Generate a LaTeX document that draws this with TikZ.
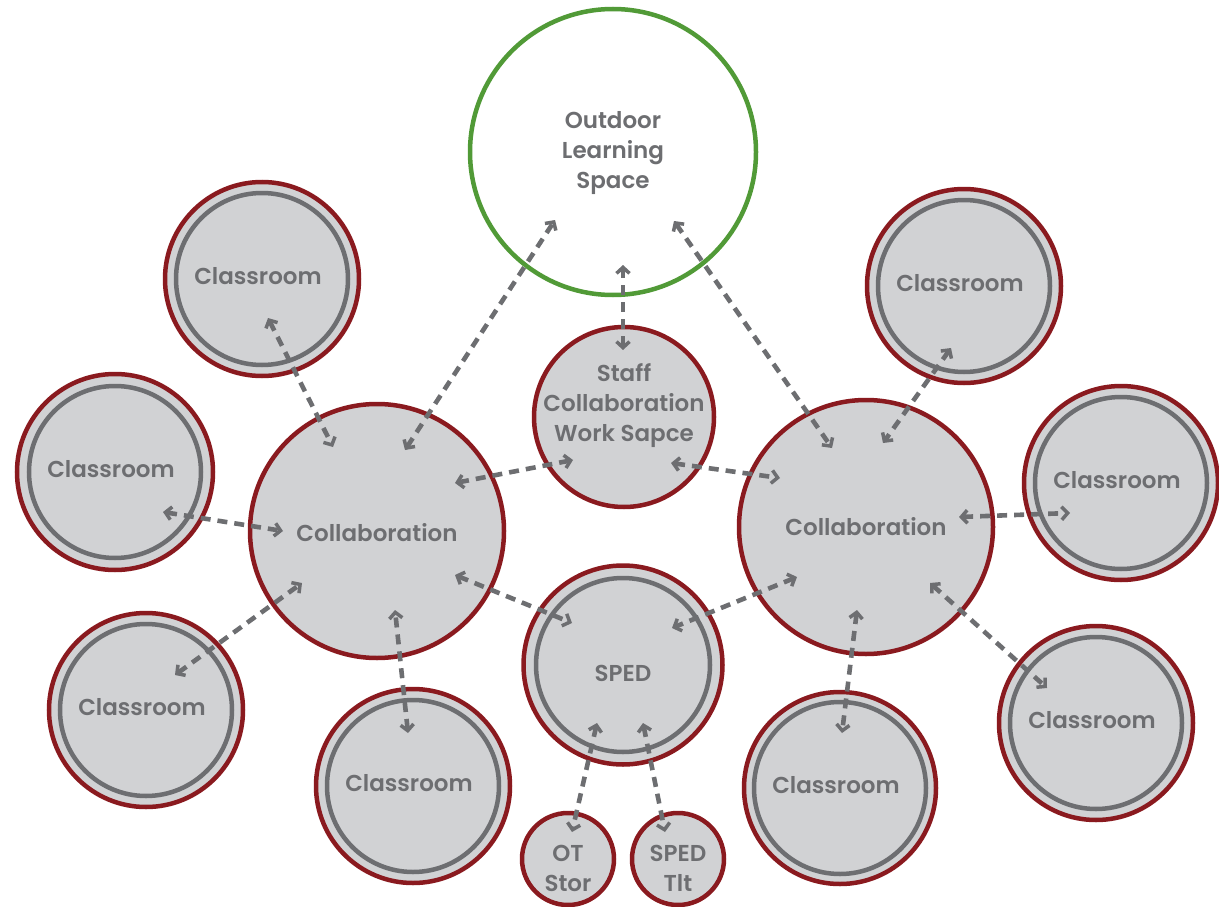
\documentclass[tikz,border=0pt]{standalone}
\usepackage{fontspec}
\setmainfont{Poppins}[UprightFont=* SemiBold]
\usetikzlibrary{arrows.meta,calc}
\definecolor{roomfill}{HTML}{D1D2D4}
\definecolor{roomred}{HTML}{8A1A1F}
\definecolor{ringgray}{HTML}{6D6E71}
\definecolor{txtgray}{HTML}{6D6E71}
\definecolor{leafgreen}{HTML}{519A37}
\tikzset{
  room/.style={circle, draw=roomred, fill=roomfill, line width=4.5pt, inner sep=0pt, minimum size=#1},
  ring/.style={draw=ringgray, line width=4.5pt},
  outdoor/.style={circle, draw=leafgreen, fill=white, line width=4.5pt, inner sep=0pt, minimum size=#1},
  lbl/.style={text=txtgray, font=\fontsize{23}{30}\selectfont, align=center, inner sep=0pt},
  link/.style={draw=ringgray, line width=4.6pt, dash pattern=on 10pt off 7pt,
    {Straight Barb[length=6pt,width=13pt,line width=3.5pt]}-{Straight Barb[length=6pt,width=13pt,line width=3.5pt]}}
}
\begin{document}
\begin{tikzpicture}[x=1pt,y=-1pt]
\useasboundingbox (0,0) rectangle (1219,907);

% spaces
\node[outdoor=286pt] (OUT) at (613,152) {};
\node[room=180pt] (STF) at (624,417) {};
\node[room=254pt] (CL) at (377,531) {};
\node[room=254pt] (CR) at (866,527) {};
\node[room=199pt] (SPED) at (623,665) {};
\node[room=92pt] (OT) at (568,859) {};
\node[room=92pt] (TLT) at (678,859) {};
\node[room=194pt] (C1) at (262,279) {};
\node[room=196pt] (C2) at (115,472) {};
\node[room=194pt] (C3) at (146,710) {};
\node[room=194pt] (C4) at (413,786) {};
\node[room=194pt] (C5) at (964,286) {};
\node[room=194pt] (C6) at (1121,483) {};
\node[room=194pt] (C7) at (1096,723) {};
\node[room=192pt] (C8) at (840,788) {};

% inner rings of classrooms and SPED
\foreach \c in {C1,C2,C3,C4,C5,C6,C7,C8}
  \draw[ring] (\c) circle (86);
\draw[ring] (SPED) circle (87);

% circulation links
\draw[link] ($(C1)+(6,39)$) -- ($(CL)+(-44,-84)$);
\draw[link] ($(C2)+(48,40)$) -- ($(CL)+(-94,0)$);
\draw[link] ($(C3)+(29,-35)$) -- ($(CL)+(-75,52)$);
\draw[link] ($(C4)+(-5,-53)$) -- ($(CL)+(18,79)$);
\draw[link] ($(CL)+(28,-81)$) -- ($(OUT)+(-58,68)$);
\draw[link] ($(CL)+(78,-48)$) -- ($(STF)+(-51,43)$);
\draw[link] ($(CL)+(78,44)$) -- ($(SPED)+(-51,-42)$);
\draw[link] ($(STF)+(-1,-67)$) -- ($(OUT)+(10,113)$);
\draw[link] ($(STF)+(47,46)$) -- ($(CR)+(-86,-49)$);
\draw[link] ($(OUT)+(61,69)$) -- ($(CR)+(-34,-79)$);
\draw[link] ($(CR)+(-69,50)$) -- ($(SPED)+(49,-37)$);
\draw[link] ($(C5)+(-13,62)$) -- ($(CR)+(17,-84)$);
\draw[link] ($(CR)+(93,-10)$) -- ($(C6)+(-51,30)$);
\draw[link] ($(CR)+(64,56)$) -- ($(C7)+(-49,-35)$);
\draw[link] ($(CR)+(-9,83)$) -- ($(C8)+(2,-55)$);
\draw[link] ($(SPED)+(-26,58)$) -- ($(OT)+(4,-27)$);
\draw[link] ($(SPED)+(20,58)$) -- ($(TLT)+(-13,-27)$);

% labels
\node[lbl] at ($(OUT)+(0,1)$) {Outdoor\\Learning\\Space};
\node[lbl] at ($(STF)+(0,-11)$) {Staff\\Collaboration\\Work Sapce};
\node[lbl] at ($(CL)+(0,2)$) {Collaboration};
\node[lbl] at (CR) {Collaboration};
\node[lbl] at ($(SPED)+(0,8)$) {SPED};
\node[lbl] at ($(OT)+(0,9)$) {OT\\Stor};
\node[lbl] at ($(TLT)+(0,9)$) {SPED\\Tlt};
\foreach \c in {C1,C2,C3,C4,C5,C6,C7,C8}
  \node[lbl] at ($(\c)+(-4,-3)$) {Classroom};
\end{tikzpicture}
\end{document}
